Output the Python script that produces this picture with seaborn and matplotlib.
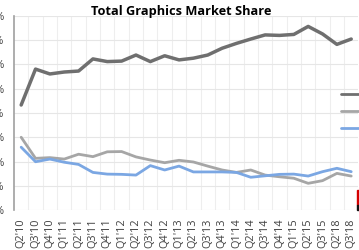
import numpy as np
import matplotlib
matplotlib.use("Agg")
import matplotlib.pyplot as plt
import pandas as pd
import seaborn as sns
from matplotlib.patches import Rectangle

quarters = ["Q2'10", "Q3'10", "Q4'10", "Q1'11", "Q2'11", "Q3'11", "Q4'11", "Q1'12",
            "Q2'12", "Q3'12", "Q4'12", "Q1'13", "Q2'13", "Q3'13", "Q4'13", "Q1'14",
            "Q2'14", "Q3'14", "Q4'14", "Q1'15", "Q2'15", "Q3'15", "Q2'18", "Q3'18"]

intel = [43.3, 58.1, 56.1, 56.9, 57.3, 62.3, 61.2, 61.4, 63.9, 61.2, 63.6, 61.9,
         62.6, 63.9, 66.7, 68.7, 70.5, 72.2, 72.0, 72.4, 75.7, 72.6, 68.3, 70.5]
amd = [30.0, 21.3, 21.6, 21.0, 23.0, 22.0, 24.0, 24.1, 21.9, 20.6, 19.5, 20.5,
       19.8, 18.1, 16.5, 15.5, 16.5, 14.4, 13.7, 13.1, 11.0, 12.1, 15.1, 14.0]
nvidia = [25.9, 19.9, 21.0, 19.7, 18.8, 15.5, 14.8, 14.7, 14.4, 18.3, 16.5, 18.1,
          15.7, 15.7, 15.7, 15.5, 13.5, 14.1, 14.7, 14.8, 14.0, 15.8, 17.2, 15.8]

vendors = ["Intel", "AMD", "Nvidia"]
colors = ["#6f6f6f", "#a6a6a6", "#7ba7e3"]

df = pd.DataFrame({
    "quarter": quarters * 3,
    "share": intel + amd + nvidia,
    "vendor": np.repeat(vendors, len(quarters)),
})

sns.set_style("white")
plt.rcParams["font.family"] = ["Open Sans", "DejaVu Sans"]

fig = plt.figure(figsize=(3.59, 2.50), dpi=100)
ax = fig.add_axes([14 / 359, 1 - 210 / 250, 344.4 / 359, 194 / 250])

sns.lineplot(data=df, x="quarter", y="share", hue="vendor", palette=colors,
             sort=False, linewidth=2, ax=ax)
ax.lines[0].set_linewidth(2.5)

ax.set_xlim(-0.5, len(quarters) - 0.5)
ax.set_ylim(0, 80)
ax.set_yticks(range(0, 81, 10))
ax.set_yticklabels([f"{v}%" for v in range(0, 81, 10)])
ax.set_xticks(range(len(quarters)))
ax.set_xticklabels(quarters, rotation=90)
ax.set_xticks(np.arange(0.5, len(quarters) - 0.5, 1), minor=True)
ax.tick_params(axis="both", which="both", length=0, labelsize=7.8, colors="#404040")
ax.tick_params(axis="y", pad=7)
ax.tick_params(axis="x", pad=6)
ax.grid(axis="y", color="#e6e6e6", linewidth=0.8)
ax.grid(axis="x", which="minor", color="#eeeeee", linewidth=0.8)
ax.set_xlabel("")
ax.set_ylabel("")
for s in ["top", "right", "bottom"]:
    ax.spines[s].set_visible(False)
ax.spines["left"].set_color("#a0a0a0")
ax.spines["left"].set_linewidth(1.2)

ax.legend(loc="upper left", bbox_to_anchor=(341 / 359, 1 - 90 / 250),
          bbox_transform=fig.transFigure, frameon=False, fontsize=8,
          handlelength=1.7, handletextpad=0.5, labelspacing=0.55, borderpad=0,
          borderaxespad=0)

fig.text(0.505, 0.955, "Total Graphics Market Share", ha="center", va="center",
         fontsize=9.2, fontweight="bold", color="#000000")

# clipped marker visible at the lower right edge of the reference
fig.patches.append(Rectangle((357 / 359, 1 - 205 / 250), 3 / 359, 15 / 250,
                             transform=fig.transFigure, color="#d40000", zorder=5))
fig.patches.append(Rectangle((357 / 359, 1 - 210 / 250), 3 / 359, 5 / 250,
                             transform=fig.transFigure, color="#111111", zorder=5))

fig.savefig("out.png", dpi=100)
